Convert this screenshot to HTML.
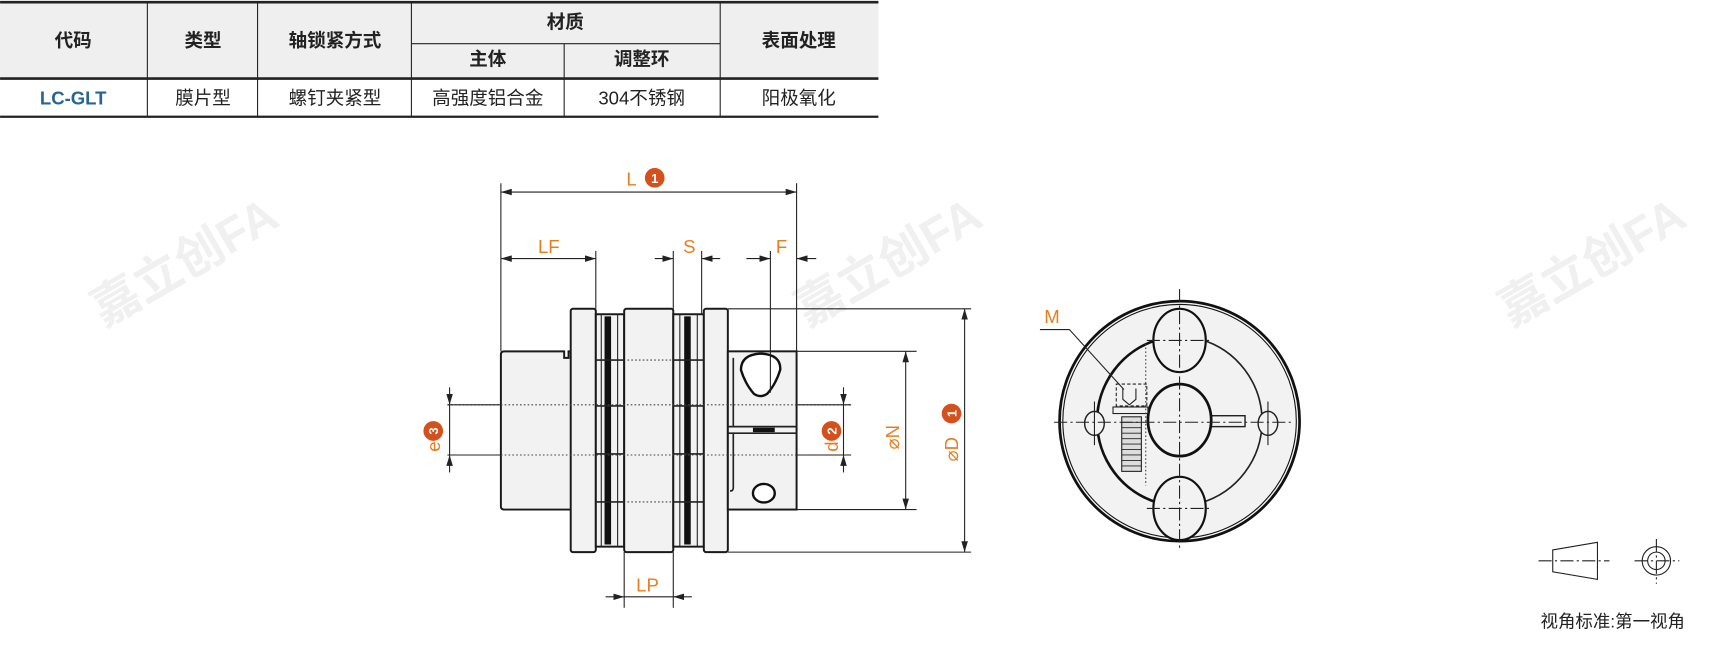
<!DOCTYPE html>
<html><head><meta charset="utf-8"><style>
html,body{margin:0;padding:0;background:#fff;}
svg{display:block;font-family:"Liberation Sans","Noto Sans CJK SC",sans-serif;}
.o{fill:#e87d1e;font-size:17px;}
.b{fill:#d4501c;}
.bt{fill:#fff;font-size:12px;font-weight:bold;text-anchor:middle;}
.p{fill:#f2f2f2;stroke:#1a1a1a;stroke-width:1.8;}
.d{stroke:#222;stroke-width:1;fill:none;}
.c{stroke:#222;stroke-width:1;stroke-dasharray:12 3 2 3;fill:none;}
.dot{stroke:#444;stroke-width:1;stroke-dasharray:1.5 2;}
.th{font-size:17px;font-weight:bold;fill:#222;text-anchor:middle;}
.td{font-size:17px;fill:#222;text-anchor:middle;}
</style></head><body>
<svg width="1711" height="649" viewBox="0 0 1568 594.8" xmlns="http://www.w3.org/2000/svg">
<defs>
<marker id="a" viewBox="0 0 10 6" refX="10" refY="3" markerWidth="10" markerHeight="6" orient="auto-start-reverse" markerUnits="userSpaceOnUse"><path d="M0,0 L10,3 L0,6 z" fill="#222"/></marker>
</defs>
<g fill="#f0f0f0" font-weight="bold">
<text x="0" y="0" font-size="44" transform="translate(740,300) rotate(-30)">嘉立创FA</text>
<text x="0" y="0" font-size="44" transform="translate(1385,300) rotate(-30)">嘉立创FA</text>
<text x="0" y="0" font-size="44" transform="translate(95,300) rotate(-30)">嘉立创FA</text>
</g>
<rect x="0" y="2" width="805" height="70" fill="#efefef"/>
<g stroke="#222" fill="none">
<line x1="0" y1="2" x2="805" y2="2" stroke-width="2.5"/>
<line x1="0" y1="72" x2="805" y2="72" stroke-width="2.5"/>
<line x1="0" y1="107" x2="805" y2="107" stroke-width="2"/>
<line x1="377" y1="40" x2="660" y2="40" stroke-width="1"/>
<line x1="135" y1="2" x2="135" y2="107"/><line x1="236" y1="2" x2="236" y2="107"/>
<line x1="377" y1="2" x2="377" y2="107"/><line x1="517" y1="40" x2="517" y2="107"/>
<line x1="660" y1="2" x2="660" y2="107"/>
</g>
<text class="th" x="67" y="43">代码</text><text class="th" x="186" y="43">类型</text>
<text class="th" x="307" y="43">轴锁紧方式</text><text class="th" x="518" y="26">材质</text>
<text class="th" x="447" y="60">主体</text><text class="th" x="588" y="60">调整环</text>
<text class="th" x="732" y="43">表面处理</text>
<text class="td" x="67" y="96" style="fill:#2a6493;font-weight:bold">LC-GLT</text>
<text class="td" x="186" y="96">膜片型</text><text class="td" x="307" y="96">螺钉夹紧型</text>
<text class="td" x="447" y="96">高强度铝合金</text><text class="td" x="588" y="96">304不锈钢</text>
<text class="td" x="732" y="96">阳极氧化</text>

<path class="p" d="M462,322 H517 v6 h4 v-6 h3 V467 H462 q-3,0 -3,-3 V325 q0,-3 3,-3z"/>
<rect class="p" x="523" y="283" width="23" height="223" rx="2"/>
<rect class="p" x="546" y="288" width="26" height="213"/>
<rect class="p" x="572" y="283" width="45" height="223" rx="2"/>
<rect class="p" x="617" y="288" width="28" height="213"/>
<rect class="p" x="645" y="283" width="22" height="223" rx="2"/>
<rect class="p" x="667" y="322" width="63" height="145"/>
<g stroke="#111" stroke-width="6"><line x1="557" y1="290" x2="557" y2="499"/><line x1="630" y1="290" x2="630" y2="499"/></g>
<g stroke="#222" stroke-width="1.5">
<line x1="546" y1="330" x2="572" y2="330"/><line x1="546" y1="372" x2="572" y2="372"/><line x1="546" y1="416" x2="572" y2="416"/><line x1="546" y1="460" x2="572" y2="460"/>
<line x1="617" y1="330" x2="645" y2="330"/><line x1="617" y1="372" x2="645" y2="372"/><line x1="617" y1="416" x2="645" y2="416"/><line x1="617" y1="460" x2="645" y2="460"/>
<line x1="551" y1="288" x2="551" y2="501" stroke-width="1"/><line x1="566" y1="288" x2="566" y2="501" stroke-width="1"/>
<line x1="623" y1="288" x2="623" y2="501" stroke-width="1"/><line x1="639" y1="288" x2="639" y2="501" stroke-width="1"/>
</g>
<line class="dot" x1="575" y1="330" x2="615" y2="330"/><line class="dot" x1="575" y1="460" x2="615" y2="460"/>
<path d="M667,391 H730 M667,397 H730 M672,391 v-63 M672,397 v50 q0,3 -3,3" stroke="#222" stroke-width="1.5" fill="none"/>
<line x1="690" y1="394" x2="710" y2="394" stroke="#111" stroke-width="4"/>
<path d="M679,339 q0,-14 18,-15 q19,1 18,15 q-4,13 -12,22 q-6,4 -12,0 q-8,-9 -12,-22z" fill="#fff" stroke="#111" stroke-width="2.2"/>
<ellipse cx="700" cy="452" rx="10" ry="8.5" fill="#fff" stroke="#111" stroke-width="2.2"/>
<line class="dot" x1="410" y1="371" x2="780" y2="371"/><line class="dot" x1="410" y1="417" x2="780" y2="417"/>
<line class="d" x1="730" y1="371" x2="780" y2="371"/><line class="d" x1="730" y1="417" x2="780" y2="417"/>
<line class="d" x1="410" y1="371" x2="459" y2="371"/><line class="d" x1="410" y1="417" x2="459" y2="417"/>

<g class="d">
<line x1="459" y1="168" x2="459" y2="322"/><line x1="730" y1="168" x2="730" y2="322"/>
<line x1="459" y1="176" x2="730" y2="176" marker-start="url(#a)" marker-end="url(#a)"/>
<line x1="546" y1="230" x2="546" y2="283"/>
<line x1="459" y1="237" x2="546" y2="237" marker-start="url(#a)" marker-end="url(#a)"/>
<line x1="617" y1="230" x2="617" y2="288"/><line x1="643" y1="230" x2="643" y2="288"/>
<line x1="600" y1="237" x2="617" y2="237" marker-end="url(#a)"/><line x1="660" y1="237" x2="643" y2="237" marker-end="url(#a)"/>
<line x1="706" y1="230" x2="706" y2="360"/>
<line x1="684" y1="237" x2="706" y2="237" marker-end="url(#a)"/><line x1="748" y1="237" x2="730" y2="237" marker-end="url(#a)"/>
<line x1="572" y1="506" x2="572" y2="557"/><line x1="617" y1="506" x2="617" y2="557"/>
<line x1="555" y1="547" x2="572" y2="547" marker-end="url(#a)"/><line x1="634" y1="547" x2="617" y2="547" marker-end="url(#a)"/>
<line x1="572" y1="547" x2="617" y2="547"/>
<line x1="730" y1="322" x2="840" y2="322"/><line x1="730" y1="467" x2="840" y2="467"/>
<line x1="830" y1="322" x2="830" y2="467" marker-start="url(#a)" marker-end="url(#a)"/>
<line x1="667" y1="283" x2="890" y2="283"/><line x1="667" y1="506" x2="890" y2="506"/>
<line x1="884" y1="283" x2="884" y2="506" marker-start="url(#a)" marker-end="url(#a)"/>
<line x1="773" y1="355" x2="773" y2="371" marker-end="url(#a)"/><line x1="773" y1="433" x2="773" y2="417" marker-end="url(#a)"/>
<line x1="773" y1="371" x2="773" y2="417"/>
<line x1="412" y1="355" x2="412" y2="371" marker-end="url(#a)"/><line x1="412" y1="433" x2="412" y2="417" marker-end="url(#a)"/>
<line x1="412" y1="371" x2="412" y2="417"/>
</g>
<text class="o" x="574" y="170">L</text><circle class="b" cx="600" cy="163" r="9"/><text class="bt" x="600" y="167.5">1</text>
<text class="o" x="493" y="232">LF</text>
<text class="o" x="626" y="232">S</text>
<text class="o" x="711" y="232">F</text>
<text class="o" x="583" y="542">LP</text>
<g transform="translate(824,412) rotate(-90)"><text class="o" x="0" y="0">⌀N</text></g>
<g transform="translate(878,423) rotate(-90)"><text class="o" x="0" y="0">⌀D</text><circle class="b" cx="44" cy="-6" r="9"/><text class="bt" x="44" y="-1.5">1</text></g>
<g transform="translate(768,414) rotate(-90)"><text class="o" x="0" y="0">d</text><circle class="b" cx="19" cy="-6" r="9"/><text class="bt" x="19" y="-1.5">2</text></g>
<g transform="translate(403,414) rotate(-90)"><text class="o" x="0" y="0">e</text><circle class="b" cx="19" cy="-6" r="9"/><text class="bt" x="19" y="-1.5">3</text></g>

<circle cx="1081" cy="386" r="110" fill="#f2f2f2" stroke="#111" stroke-width="2.5"/>
<circle cx="1081" cy="386" r="107" fill="none" stroke="#111" stroke-width="1"/>
<path d="M1100,311 A78,78 0 0 1 1100,461" fill="none" stroke="#222" stroke-width="1.5"/>
<path d="M1062,311 A78,78 0 0 0 1062,461" fill="none" stroke="#111" stroke-width="2.5"/>
<rect x="1109" y="381" width="32" height="10" fill="#f2f2f2" stroke="#222" stroke-width="1.3"/>
<ellipse cx="1081" cy="385" rx="29" ry="33" fill="#f2f2f2" stroke="#111" stroke-width="2.5"/>
<ellipse cx="1081" cy="312" rx="24" ry="29" fill="#f2f2f2" stroke="#111" stroke-width="2"/>
<ellipse cx="1081" cy="466" rx="24" ry="29" fill="#f2f2f2" stroke="#111" stroke-width="2"/>
<ellipse cx="1003" cy="388" rx="9" ry="11" fill="#f2f2f2" stroke="#222" stroke-width="1.3"/>
<ellipse cx="1162" cy="388" rx="9" ry="11" fill="#f2f2f2" stroke="#222" stroke-width="1.3"/>
<rect x="1020" y="373" width="32" height="6" fill="#f2f2f2" stroke="#222"/>
<line x1="1050" y1="315" x2="1050" y2="445" class="dot"/>
<rect x="1023" y="352" width="28" height="20" fill="none" stroke="#222" stroke-dasharray="3 2"/>
<path d="M1029,356 v10 l6,5 l6,-5 v-10" fill="none" stroke="#222"/>
<rect x="1028" y="382" width="18" height="50" fill="#ddd" stroke="#222"/>
<g stroke="#222" stroke-width="0.8"><line x1="1028" y1="387" x2="1046" y2="387"/><line x1="1028" y1="392" x2="1046" y2="392"/><line x1="1028" y1="397" x2="1046" y2="397"/><line x1="1028" y1="402" x2="1046" y2="402"/><line x1="1028" y1="407" x2="1046" y2="407"/><line x1="1028" y1="412" x2="1046" y2="412"/><line x1="1028" y1="417" x2="1046" y2="417"/><line x1="1028" y1="422" x2="1046" y2="422"/><line x1="1028" y1="427" x2="1046" y2="427"/></g>
<g class="c">
<line x1="1081" y1="265" x2="1081" y2="505"/><line x1="966" y1="387" x2="1185" y2="387"/>
<line x1="1051" y1="312" x2="1111" y2="312"/><line x1="1051" y1="466" x2="1111" y2="466"/>
</g>
<g stroke="#222"><line x1="1003" y1="368" x2="1003" y2="408"/><line x1="1162" y1="368" x2="1162" y2="408"/></g>
<text class="o" x="957" y="296">M</text>
<polyline points="953,302 980,302 1030,357" fill="none" stroke="#222"/>

<g stroke="#222" fill="none">
<path d="M1423,504 L1464,497 V531 L1423,524z"/>
<circle cx="1518" cy="514" r="13"/><circle cx="1518" cy="514" r="8"/>
</g>
<g class="c"><line x1="1410" y1="514" x2="1475" y2="514"/><line x1="1498" y1="514" x2="1539" y2="514"/><line x1="1518" y1="494" x2="1518" y2="535"/></g>
<text x="1478" y="575" font-size="16" fill="#222" text-anchor="middle">视角标准:第一视角</text>
</svg>
</body></html>
